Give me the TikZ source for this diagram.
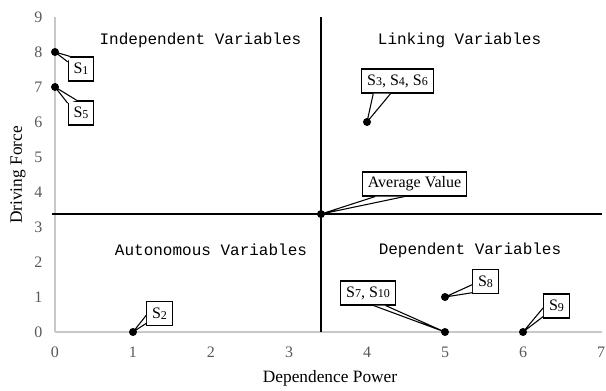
\documentclass[tikz,border=0pt]{standalone}
\usepackage{fontspec}
\setmainfont{Liberation Serif}
\newfontfamily\quadfont{Liberation Mono}
\usetikzlibrary{positioning}
\definecolor{axisgray}{RGB}{200,200,200}
\definecolor{ticktext}{RGB}{89,89,89}
\newcommand{\sname}[1]{S{\fontsize{9}{9}\selectfont\raisebox{-0.6pt}{#1}}}
\tikzset{
	callout/.style={draw,fill=white,line width=0.8pt,inner xsep=4pt,inner ysep=0pt,minimum height=18pt,font=\fontsize{12}{12}\selectfont},
	pointer/.style={line width=0.8pt},
	ptdot/.style={circle,fill=black,inner sep=0pt,minimum size=6pt},
	quad/.style={font=\quadfont\fontsize{12}{12}\selectfont},
	ticklabel/.style={text=ticktext,font=\fontsize{12}{12}\selectfont},
	axistitle/.style={font=\fontsize{13}{13}\selectfont}
}
\begin{document}
\begin{tikzpicture}[x=58.5pt,y=26.25pt]
		\useasboundingbox (-0.705,-1.657) rectangle (7.064,9.486);
		% axes
		\draw[axisgray,line width=0.8pt] (0,0) -- (0,9);
		\draw[axisgray,line width=0.8pt] (0,0) -- (7.01,0);
		\foreach \y in {0,...,9} \node[ticklabel,anchor=east] (ylab\y) at (-0.1,\y) {\y};
		\foreach \x in {0,...,7} \node[ticklabel] (xlab\x) at (\x,-0.571) {\x};
		\node[axistitle,rotate=90] (ytitle) at (-0.474,4.486) {Driving Force};
		\node[axistitle] (xtitle) at (3.526,-1.314) {Dependence Power};
		% average lines
		\draw[line width=1pt] (3.41,0) -- (3.41,9);
		\draw[line width=1pt] (-0.04,3.37) -- (7.01,3.37);
		% quadrants
		\node[quad] (indep) at (1.865,8.343) {Independent Variables};
		\node[quad] (link) at (5.186,8.343) {Linking Variables};
		\node[quad] (auto) at (2.0,2.343) {Autonomous Variables};
		\node[quad] (dep) at (5.32,2.343) {Dependent Variables};
		% points
		\coordinate (p1) at (0,8);
		\coordinate (p5) at (0,7);
		\coordinate (p346) at (4,6);
		\coordinate (pavg) at (3.41,3.37);
		\coordinate (p2) at (1,0);
		\coordinate (p710) at (5,0);
		\coordinate (p8) at (5,1);
		\coordinate (p9) at (6,0);
		% labels
		\node[callout] (c1) at (0.333,7.514) {\sname{1}};
		\node[callout] (c5) at (0.333,6.257) {\sname{5}};
		\node[callout] (c346) at (4.391,7.171) {\sname{3}, \sname{4}, \sname{6}};
		\node[callout] (cavg) at (4.609,4.229) {Average Value};
		\node[callout] (c2) at (1.340,0.529) {\sname{2}};
		\node[callout] (c710) at (4.013,1.114) {\sname{7}, \sname{10}};
		\node[callout] (c8) at (5.519,1.443) {\sname{8}};
		\node[callout] (c9) at (6.429,0.743) {\sname{9}};
		% pointers
		\fill[white] (p1) -- ([yshift=-4pt]c1.north west) -- ([xshift=2pt]c1.north west) -- cycle;
		\draw[pointer] ([yshift=-4pt]c1.north west) -- (p1) -- ([xshift=2pt]c1.north west);
		\fill[white] (p5) -- ([yshift=-2pt]c5.north west) -- ([xshift=7pt]c5.north west) -- cycle;
		\draw[pointer] ([yshift=-2pt]c5.north west) -- (p5) -- ([xshift=7pt]c5.north west);
		\fill[white] (p346) -- ([xshift=9pt]c346.south west) -- ([xshift=22pt]c346.south west) -- cycle;
		\draw[pointer] ([xshift=9pt]c346.south west) -- (p346) -- ([xshift=22pt]c346.south west);
		\fill[white] (pavg) -- ([xshift=10pt]cavg.south west) -- ([xshift=32pt]cavg.south west) -- cycle;
		\draw[pointer] ([xshift=10pt]cavg.south west) -- (pavg) -- ([xshift=32pt]cavg.south west);
		\fill[white] (p2) -- ([yshift=2pt]c2.south west) -- ([yshift=8pt]c2.south west) -- cycle;
		\draw[pointer] ([yshift=2pt]c2.south west) -- (p2) -- ([yshift=8pt]c2.south west);
		\fill[white] (p710) -- ([xshift=25pt]c710.south west) -- ([xshift=34pt]c710.south west) -- cycle;
		\draw[pointer] ([xshift=25pt]c710.south west) -- (p710) -- ([xshift=34pt]c710.south west);
		\fill[white] (p8) -- ([yshift=1pt]c8.south west) -- ([yshift=7pt]c8.south west) -- cycle;
		\draw[pointer] ([yshift=1pt]c8.south west) -- (p8) -- ([yshift=7pt]c8.south west);
		\fill[white] (p9) -- ([yshift=1.5pt]c9.south west) -- ([yshift=8pt]c9.south west) -- cycle;
		\draw[pointer] ([yshift=1.5pt]c9.south west) -- (p9) -- ([yshift=8pt]c9.south west);
		% dots
		\foreach \p in {p1,p5,p346,pavg,p2,p710,p8,p9} \node[ptdot] (d\p) at (\p) {};
	\end{tikzpicture}
\end{document}
